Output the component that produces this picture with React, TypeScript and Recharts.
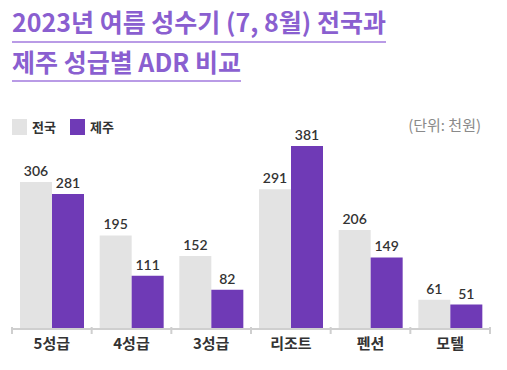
import React from "react";
import { BarChart, Bar, XAxis, YAxis, LabelList } from "recharts";

const categories = ["5성급", "4성급", "3성급", "리조트", "펜션", "모텔"];
const nationwide = [306, 195, 152, 291, 206, 61];
const jeju = [281, 111, 82, 381, 149, 51];

const data = categories.map((name, i) => ({ name, nationwide: nationwide[i], jeju: jeju[i] }));

const FONT = "Lato, 'Noto Sans CJK KR', sans-serif";
const KR = "'Noto Sans CJK KR', sans-serif";
const TITLE_COLOR = "#8a5fd0";
const GREY = "#e3e3e3";
const PURPLE = "#6f3ab6";
const AXIS = "#cfcfcf";

const W = 507;
const H = 370;
const M = { top: 137, right: 17, left: 12, bottom: 11 };
const band = (W - M.left - M.right) / categories.length;

// category label plus boundary tick marks at the band edges
const CatTick = (props: any) => {
  const { x, y, payload, index } = props;
  const left = x - band / 2;
  return (
    <g>
      <line x1={left} x2={left} y1={y - 2} y2={y + 5} stroke={AXIS} strokeWidth={2} />
      {index === categories.length - 1 && (
        <line x1={left + band} x2={left + band} y1={y - 2} y2={y + 5} stroke={AXIS} strokeWidth={2} />
      )}
      <text x={x} y={y + 20} textAnchor="middle" fontSize={15} fontWeight={700} fill="#333" fontFamily={KR}>
        {payload.value}
      </text>
    </g>
  );
};

export default function App() {
  return (
    <div style={{ position: "absolute", left: 0, top: 0, width: W, height: H, background: "#fff", fontFamily: FONT }}>
      {/* title with underlines */}
      <div style={{ position: "absolute", left: 12, top: 5, fontSize: 25, fontWeight: 700, color: TITLE_COLOR, fontFamily: KR, lineHeight: "32px" }}>
        <div style={{ display: "inline-block", borderBottom: "2px solid #b99be6", paddingBottom: 4 }}>2023년 여름 성수기 (7, 8월) 전국과</div>
        <br />
        <div style={{ display: "inline-block", borderBottom: "2px solid #b99be6", paddingBottom: 3, marginTop: 2 }}>제주 성급별 ADR 비교</div>
      </div>

      {/* legend */}
      <div style={{ position: "absolute", left: 12, top: 117, display: "flex", alignItems: "center", fontSize: 13, fontWeight: 700, color: "#333", fontFamily: KR }}>
        <span style={{ width: 15, height: 16, background: GREY, display: "inline-block", marginRight: 5 }} />
        <span style={{ marginRight: 14 }}>전국</span>
        <span style={{ width: 15, height: 16, background: PURPLE, display: "inline-block", marginRight: 5 }} />
        <span>제주</span>
      </div>
      <div style={{ position: "absolute", right: 26, top: 114, fontSize: 15, color: "#8a8a8a", fontFamily: KR }}>
        (단위: 천원)
      </div>

      <div style={{ position: "absolute", left: 0, top: 0 }}>
        <BarChart width={W} height={H} data={data} margin={M} barCategoryGap={8} barGap={0}>
          <XAxis
            dataKey="name"
            axisLine={{ stroke: AXIS, strokeWidth: 2 }}
            tickLine={false}
            tickSize={0}
            tickMargin={0}
            height={30}
            tick={<CatTick />}
          />
          <YAxis hide domain={[0, 400]} />
          <Bar dataKey="nationwide" fill={GREY} isAnimationActive={false}>
            <LabelList dataKey="nationwide" position="top" offset={6} style={{ fontSize: 14, fontWeight: 600, fill: "#333", fontFamily: FONT }} />
          </Bar>
          <Bar dataKey="jeju" fill={PURPLE} isAnimationActive={false}>
            <LabelList dataKey="jeju" position="top" offset={6} style={{ fontSize: 14, fontWeight: 600, fill: "#333", fontFamily: FONT }} />
          </Bar>
        </BarChart>
      </div>
    </div>
  );
}
